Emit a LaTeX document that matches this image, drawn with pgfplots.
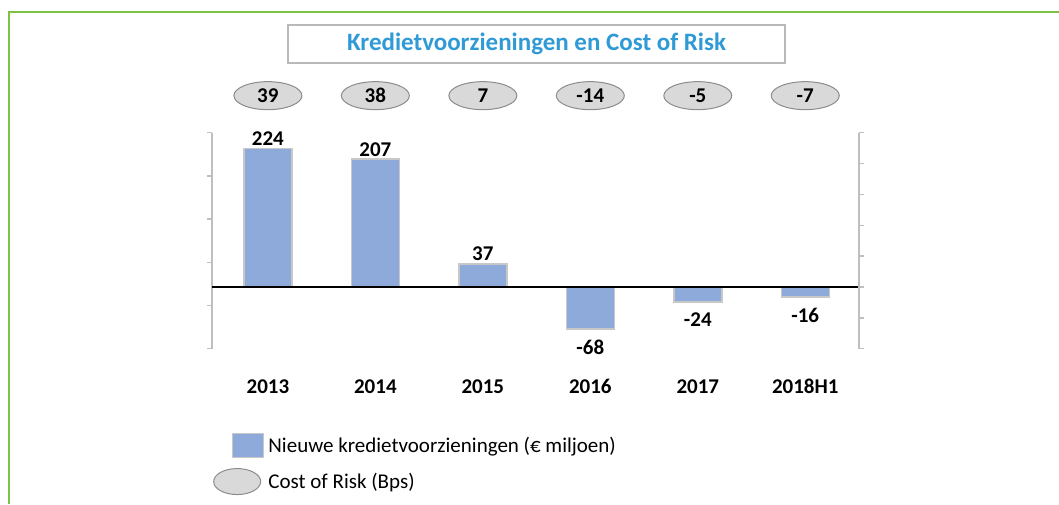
\documentclass[border=0pt]{standalone}
\usepackage{fontspec}
\setmainfont{Carlito}
\usepackage{pgfplots}
\pgfplotsset{compat=1.18}
\usetikzlibrary{shapes.geometric}

\definecolor{barblue}{RGB}{142,170,219}
\definecolor{baredge}{RGB}{200,200,200}
\definecolor{ovalfill}{RGB}{217,217,217}
\definecolor{ovaledge}{RGB}{140,140,140}
\definecolor{titleblue}{RGB}{47,154,213}
\definecolor{framegreen}{RGB}{125,194,66}
\definecolor{axisgray}{RGB}{191,191,191}

\newcommand{\lblfont}{\fontsize{21}{25}\selectfont\bfseries}

\begin{document}
\begin{tikzpicture}
\useasboundingbox (0pt,0pt) rectangle (1059pt,504pt);
\draw[framegreen, line width=2pt] (8.5pt,0pt) -- (8.5pt,492pt) -- (1059pt,492pt);
\node[draw=gray!55, line width=1.5pt, minimum width=497pt, minimum height=38pt,
      inner sep=0pt, font=\fontsize{25}{29}\selectfont\bfseries, text=titleblue]
      at (536.5pt,460pt) {Kredietvoorzieningen en Cost of Risk};

% bars, Cost of Risk ovals, left axis
\begin{axis}[
    at={(212pt,155.3pt)}, anchor=south west,
    scale only axis, width=647pt, height=216pt,
    xmin=-0.52, xmax=5.5, ymin=-100, ymax=250,
    clip=false,
    axis y line*=left, axis x line*=bottom,
    x axis line style={draw=none},
    y axis line style={axisgray, line width=2pt},
    xtick={0,...,5},
    xticklabels={2013,2014,2015,2016,2017,2018H1},
    xtick style={draw=none},
    xticklabel style={font=\lblfont, yshift=-22pt},
    ytick={-100,-30,40,110,180,250},
    yticklabels={},
    ytick style={axisgray, line width=1.5pt},
    tick align=outside, major tick length=5pt,
    legend style={at={(0.0015,-0.385)}, anchor=north west, draw=none, fill=none,
        inner sep=0pt, font=\fontsize{21}{25}\selectfont, row sep=9pt,
        nodes={inner xsep=4pt, inner ysep=0pt}},
    legend cell align=left,
]
\addplot[ybar, bar width=48pt, bar shift=0pt, fill=barblue, draw=baredge, line width=1.5pt,
    nodes near coords={\pgfmathprintnumber[assume math mode=true]{\pgfplotspointmeta}},
    nodes near coords style={font=\lblfont, text=black, anchor=south, yshift=-1pt},
    legend image code/.code={\path[draw=none, fill=none] (-19.5pt,-13.5pt) rectangle (31.5pt,13.5pt);
        \draw[fill=barblue, draw=baredge, line width=1.5pt]
        (0pt,-12pt) rectangle (31pt,12pt);}]
    coordinates {(0,224) (1,207) (2,37)};
\addlegendentry{Nieuwe kredietvoorzieningen (€ miljoen)}
\addplot[ybar, bar width=48pt, bar shift=0pt, fill=barblue, draw=baredge, line width=1.5pt,
    forget plot,
    nodes near coords={\pgfmathprintnumber[assume math mode=true]{\pgfplotspointmeta}},
    nodes near coords style={font=\lblfont, text=black, anchor=north, yshift=-7pt}]
    coordinates {(3,-68) (4,-24) (5,-16)};
\addplot[draw=none, mark=none, point meta=explicit,
    nodes near coords={\pgfmathprintnumber[assume math mode=true]{\pgfplotspointmeta}},
    nodes near coords style={ellipse, fill=ovalfill, draw=ovaledge, line width=1pt,
        minimum width=68pt, minimum height=28pt, inner sep=0pt, anchor=center,
        text=black, font=\lblfont},
    legend image code/.code={\path[draw=none, fill=none] (-19.5pt,-13.5pt) rectangle (31.5pt,13.5pt);
        \node[ellipse, fill=ovalfill, draw=ovaledge, line width=1pt, anchor=center,
        minimum width=47pt, minimum height=26pt, inner sep=0pt] at (4.5pt,0pt) {};}]
    coordinates {(0,310)[39] (1,310)[38] (2,310)[7] (3,310)[-14] (4,310)[-5] (5,310)[-7]};
\addlegendentry{Cost of Risk (Bps)}
\end{axis}

% zero line and right axis
\begin{axis}[
    at={(212pt,155.3pt)}, anchor=south west,
    scale only axis, width=647pt, height=216pt,
    xmin=-0.52, xmax=5.5, ymin=-100, ymax=250,
    axis y line*=right, axis x line*=middle,
    x axis line style={black, line width=1.3pt},
    y axis line style={axisgray, line width=2pt},
    xtick=\empty,
    ytick={-100,-50,...,250}, yticklabels={},
    ytick style={axisgray, line width=1.5pt},
    tick align=outside, major tick length=5pt,
]
\end{axis}
\end{tikzpicture}
\end{document}
